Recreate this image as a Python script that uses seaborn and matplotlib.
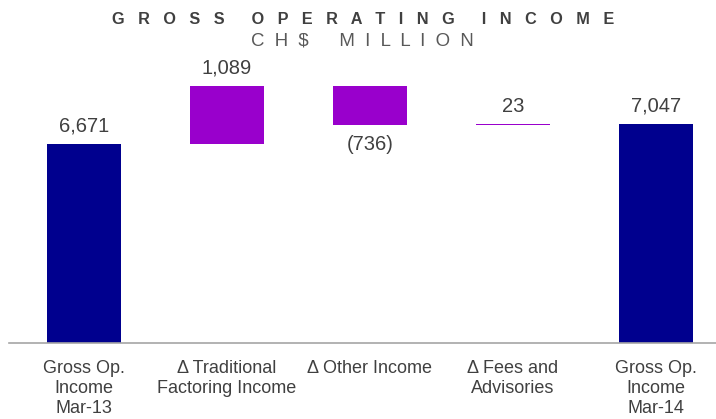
import matplotlib
matplotlib.use("Agg")
import matplotlib.pyplot as plt
import seaborn as sns
import pandas as pd

# Waterfall of gross operating income, CH$ million
categories = [
    "Gross Op.\nIncome\nMar-13",
    "\u0394 Traditional\nFactoring Income",
    "\u0394 Other Income",
    "\u0394 Fees and\nAdvisories",
    "Gross Op.\nIncome\nMar-14",
]
changes = [6671, 1089, -736, 23, 7047]
is_total = [True, False, False, False, True]
value_labels = ["6,671", "1,089", "(736)", "23", "7,047"]

navy = "#00008E"
purple = "#9900CC"
text_col = "#404040"

# floating bar extents
bottoms, heights = [], []
running = 0
for v, tot in zip(changes, is_total):
    if tot:
        bottoms.append(0)
        heights.append(v)
        running = v
    else:
        lo = min(running, running + v)
        bottoms.append(lo)
        heights.append(abs(v))
        running += v
tops = [b + h for b, h in zip(bottoms, heights)]

df = pd.DataFrame({"category": categories, "height": heights})
colors = [navy if t else purple for t in is_total]

sns.set_theme(style="white")
plt.rcParams["font.family"] = ["Liberation Sans", "DejaVu Sans"]

fig = plt.figure(figsize=(7.16, 4.19), dpi=100)
ax = fig.add_axes([9 / 716, 76 / 419, 1 - 9 / 716, 283 / 419])

sns.barplot(data=df, x="category", y="height", hue="category",
            palette=colors, legend=False, width=0.517, ax=ax,
            saturation=1, edgecolor="none", linewidth=0)

for patch, b in zip(ax.patches, bottoms):
    patch.set_y(b)

ax.set_ylim(2930, 8250)
ax.set_xlim(-0.524, 4.42)
ax.set_yticks([])
ax.set_xlabel("")
ax.set_ylabel("")

for s in ["top", "right", "left"]:
    ax.spines[s].set_visible(False)
ax.spines["bottom"].set_color("#A6A6A6")
ax.spines["bottom"].set_linewidth(1.2)

ax.tick_params(axis="x", length=0, pad=12, labelsize=13, labelcolor=text_col)
for lab in ax.get_xticklabels():
    lab.set_linespacing(1.25)

for i, (lab, v) in enumerate(zip(value_labels, changes)):
    if v < 0:
        ax.annotate(lab, (i, bottoms[i]), xytext=(0, -7), textcoords="offset points",
                    ha="center", va="top", fontsize=14.5, color=text_col)
    else:
        ax.annotate(lab, (i, tops[i]), xytext=(0, 6), textcoords="offset points",
                    ha="center", va="bottom", fontsize=14.5, color=text_col)

fig.text(363 / 716, 1 - 19 / 419,
         "G   R   O   S   S      O   P   E   R   A   T   I   N   G      I   N   C   O   M   E",
         ha="center", va="center", fontsize=11.7, fontweight="bold", color=text_col)
fig.text(362.5 / 716, 1 - 41 / 419,
         "C  H  $      M  I  L  L  I  O  N",
         ha="center", va="center", fontsize=13.4, color="#595959")

fig.savefig("out.png", dpi=100)
